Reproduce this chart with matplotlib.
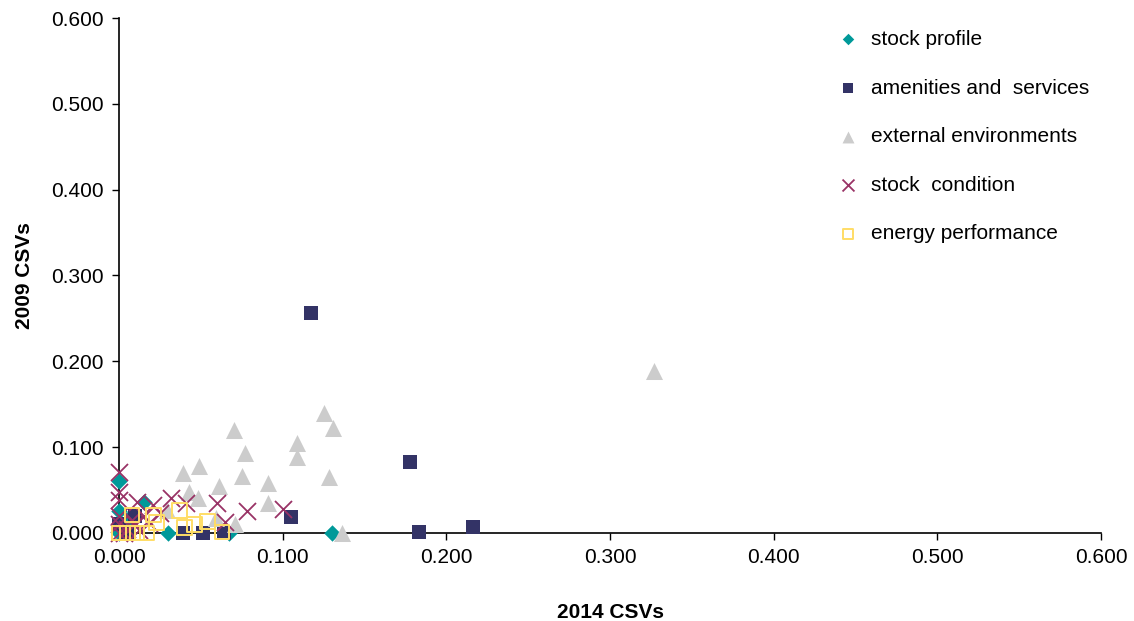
import matplotlib
matplotlib.use('Agg')
import matplotlib.pyplot as plt

plt.rcParams['font.family'] = ['Liberation Sans', 'DejaVu Sans']

# values (x = 2014 CSVs, y = 2009 CSVs)
stock_profile_x = [0.000, 0.000, 0.000, 0.000, 0.008, 0.015, 0.030, 0.067, 0.130, 0.004]
stock_profile_y = [0.060, 0.025, 0.005, 0.000, 0.021, 0.036, 0.000, 0.000, 0.000, 0.012]

amenities_x = [0.117, 0.178, 0.105, 0.183, 0.216, 0.039, 0.051, 0.064, 0.000, 0.010, 0.005]
amenities_y = [0.256, 0.082, 0.019, 0.001, 0.007, 0.000, 0.000, 0.000, 0.010, 0.020, 0.000]

external_x = [0.327, 0.125, 0.131, 0.070, 0.077, 0.109, 0.109, 0.049, 0.039, 0.061,
              0.043, 0.048, 0.075, 0.091, 0.128, 0.091, 0.059, 0.071, 0.136, 0.029]
external_y = [0.189, 0.140, 0.122, 0.120, 0.093, 0.105, 0.088, 0.078, 0.070, 0.055,
              0.047, 0.040, 0.066, 0.058, 0.065, 0.035, 0.017, 0.010, 0.000, 0.027]

condition_x = [0.000, 0.000, 0.000, 0.011, 0.021, 0.032, 0.041, 0.060, 0.078, 0.100,
               0.065, 0.025, 0.000, 0.000, 0.005, 0.010, 0.008, 0.012, 0.015, 0.018,
               0.003, 0.000]
condition_y = [0.071, 0.047, 0.038, 0.036, 0.033, 0.041, 0.035, 0.035, 0.026, 0.028,
               0.013, 0.023, 0.020, 0.010, 0.005, 0.010, 0.015, 0.003, 0.020, 0.012,
               0.000, 0.000]

energy_x = [0.008, 0.021, 0.037, 0.023, 0.040, 0.046, 0.054, 0.063, 0.000, 0.005,
            0.011, 0.017]
energy_y = [0.021, 0.021, 0.026, 0.012, 0.006, 0.010, 0.013, 0.001, 0.000, 0.000,
            0.000, 0.000]

labels = ['stock profile', 'amenities and  services', 'external environments',
          'stock  condition', 'energy performance']

fig = plt.figure(figsize=(11.34, 6.21), dpi=100)
ax = fig.add_axes([0.105, 0.142, 0.866, 0.829])

h1 = ax.scatter(stock_profile_x, stock_profile_y, marker='D', s=70, color='#009999',
                linewidths=0, label=labels[0], zorder=3, clip_on=False)
h2 = ax.scatter(amenities_x, amenities_y, marker='s', s=110, color='#333366',
                linewidths=0, label=labels[1], zorder=3, clip_on=False)
h3 = ax.scatter(external_x, external_y, marker='^', s=150, color='#CCCCCC',
                linewidths=0, label=labels[2], zorder=3, clip_on=False)
h4 = ax.scatter(condition_x, condition_y, marker='x', s=150, color='#993366',
                linewidths=1.3, label=labels[3], zorder=3, clip_on=False)
h5 = ax.scatter(energy_x, energy_y, marker='s', s=110, facecolors='none',
                edgecolors='#FFDD66', linewidths=1.4, label=labels[4], zorder=3,
                clip_on=False)

ax.set_xlim(0, 0.6)
ax.set_ylim(0, 0.6)
ticks = [0.0, 0.1, 0.2, 0.3, 0.4, 0.5, 0.6]
ax.set_xticks(ticks)
ax.set_yticks(ticks)
ax.set_xticklabels(['%.3f' % t for t in ticks])
ax.set_yticklabels(['%.3f' % t for t in ticks])
ax.tick_params(labelsize=15, length=5, width=1, direction='out', pad=6)
for s in ['top', 'right']:
    ax.spines[s].set_visible(False)
ax.spines['left'].set_linewidth(1.2)
ax.spines['bottom'].set_linewidth(1.2)

ax.set_xlabel('2014 CSVs', fontsize=15, fontweight='bold', labelpad=26)
ax.set_ylabel('2009 CSVs', fontsize=15, fontweight='bold', labelpad=12)

leg = fig.legend(handles=[h1, h2, h3, h4, h5], loc='upper left',
                 bbox_to_anchor=(0.713, 0.982), frameon=False, fontsize=15,
                 labelspacing=1.42, handletextpad=0.1, scatterpoints=1,
                 markerscale=0.7)

fig.savefig('out.png', dpi=100)
